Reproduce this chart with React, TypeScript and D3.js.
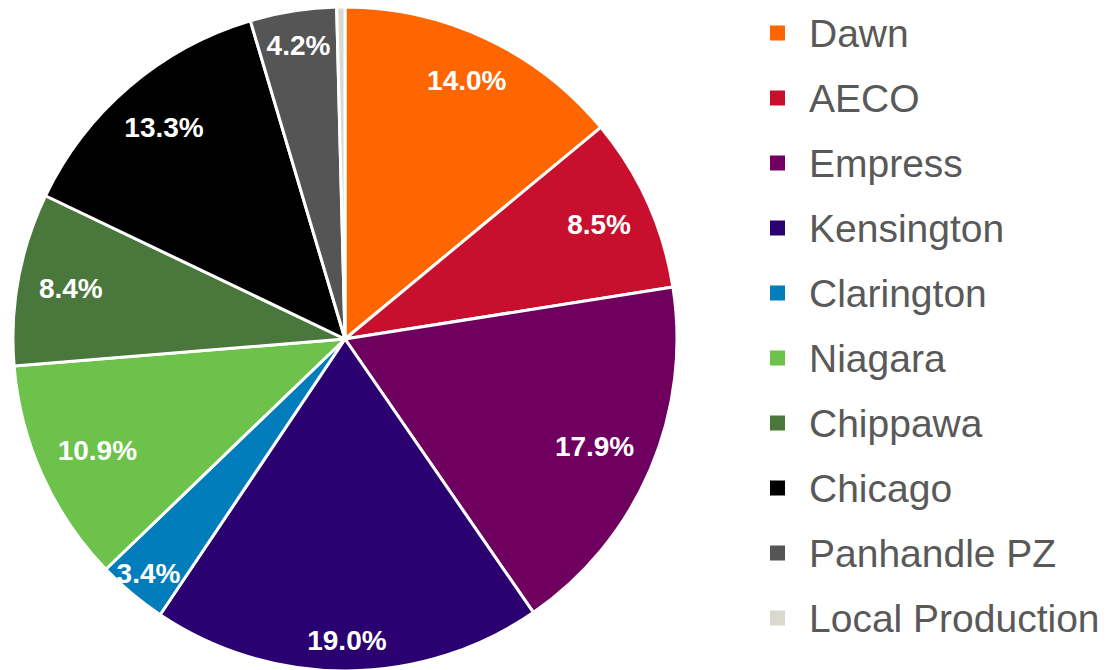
import React from "react";
import * as d3 from "d3";

const categories = ["Dawn", "AECO", "Empress", "Kensington", "Clarington", "Niagara", "Chippawa", "Chicago", "Panhandle PZ", "Local Production"];
const shares = [14.0, 8.5, 17.9, 19.0, 3.4, 10.9, 8.4, 13.3, 4.2, 0.4];
const colors = ["#FF6600", "#C8102E", "#6F0060", "#2B0070", "#007DBA", "#6CC24A", "#4A773C", "#000000", "#555555", "#D9D9CE"];
const showLabel = [true, true, true, true, true, true, true, true, true, false];

const W = 1109;
const H = 670;
const cx = 345;
const cy = 339;
const R = 332;
const labelFont = 28;
const cornerTarget = 312;

const charW: Record<string, number> = { "0": 0.556, "1": 0.556, "2": 0.556, "3": 0.556, "4": 0.556, "5": 0.556, "6": 0.556, "7": 0.556, "8": 0.556, "9": 0.556, ".": 0.278, "%": 0.889 };

function textWidth(s: string, fs: number) {
  let w = 0;
  for (const c of s) w += (charW[c] ?? 0.556) * fs;
  return w;
}

export default function App() {
  const data = categories.map((c, i) => ({ name: c, value: shares[i], color: colors[i], show: showLabel[i] }));
  const pie = d3.pie<any>().sort(null).value((d) => d.value).startAngle(0).endAngle(Math.PI * 2);
  const arcs = pie(data);
  const arcGen = d3.arc<any>().innerRadius(0).outerRadius(R);

  const legendX = 770;
  const legendY0 = 33;
  const legendStep = 65;
  const legendScale = d3.scalePoint<string>().domain(categories).range([legendY0, legendY0 + legendStep * (categories.length - 1)]);

  return (
    <div style={{ position: "absolute", left: 0, top: 0 }}>
      <svg width={W} height={H} style={{ display: "block", background: "#fff" }}>
        <g transform={`translate(${cx},${cy})`}>
          {arcs.map((a, i) => (
            <path key={i} d={arcGen(a) as string} fill={a.data.color} stroke="#fff" strokeWidth={3} strokeLinejoin="round" />
          ))}
          {arcs.map((a, i) => {
            if (!a.data.show) return null;
            const mid = (a.startAngle + a.endAngle) / 2;
            const ux = Math.sin(mid);
            const uy = -Math.cos(mid);
            const txt = a.data.value.toFixed(1) + "%";
            const tw = textWidth(txt, labelFont);
            const hw = tw / 2;
            const hh = 10;
            const ext = hw * Math.abs(ux) + hh * Math.abs(uy);
            let rho = cornerTarget - ext;
            const span = a.endAngle - a.startAngle;
            const chord = 2 * rho * Math.sin(span / 2);
            if (chord < tw) rho = R - 26;
            return (
              <text
                key={"l" + i}
                x={ux * rho}
                y={uy * rho}
                textAnchor="middle"
                dominantBaseline="central"
                fill="#fff"
                fontFamily="Liberation Sans, Arial, sans-serif"
                fontWeight="bold"
                fontSize={labelFont}
              >
                {txt}
              </text>
            );
          })}
        </g>
        <g>
          {data.map((d, i) => {
            const y = legendScale(d.name) as number;
            return (
              <g key={"lg" + i}>
                <rect x={legendX} y={y - 7.5} width={15} height={15} fill={d.color} />
                <text x={809} y={y + 14} fill="#595959" fontFamily="Liberation Sans, Arial, sans-serif" fontSize={39}>
                  {d.name}
                </text>
              </g>
            );
          })}
        </g>
      </svg>
    </div>
  );
}
